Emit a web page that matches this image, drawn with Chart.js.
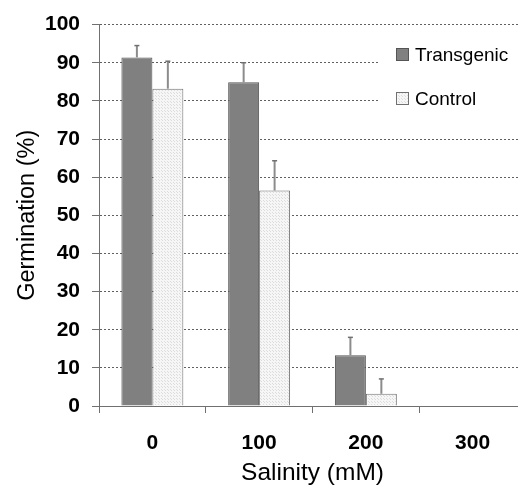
<!DOCTYPE html>
<html>
<head>
<meta charset="utf-8">
<script src="https://cdn.jsdelivr.net/npm/chart.js@4"></script>
<style>
  html, body { margin: 0; padding: 0; background: #fff; overflow: hidden; }
  #wrap { width: 518px; height: 485px; overflow: hidden; }
  #chart { display: block; }
</style>
</head>
<body>
<div id="wrap"><canvas id="chart" width="526" height="485"></canvas></div>
<script>
// Salinity levels (mM)
const salinity = ['0', '100', '200', '300'];

// Germination (%) and upper error bars
const transgenic = [91.4, 84.9, 13.3, 0];
const transgenicErr = [3.1, 5.1, 4.7, 0];
const control = [83.2, 56.5, 3.2, 0];
const controlErr = [7.2, 7.8, 3.9, 0];

const yTicks = [0, 10, 20, 30, 40, 50, 60, 70, 80, 90, 100];

const FONT = "'Liberation Sans', Arial, sans-serif";

// light dotted fill for the control bars
function dotPattern() {
  const c = document.createElement('canvas');
  c.width = 3; c.height = 3;
  const g = c.getContext('2d');
  g.fillStyle = '#f6f6f6';
  g.fillRect(0, 0, 3, 3);
  g.fillStyle = '#dcdcdc';
  g.fillRect(0, 0, 1, 1);
  g.fillRect(2, 2, 1, 1);
  return g.createPattern(c, 'repeat');
}
const controlFill = dotPattern();

const errorBars = {
  id: 'errorBars',
  afterDatasetsDraw(chart) {
    const ctx = chart.ctx;
    const y = chart.scales.y;
    ctx.save();
    chart.data.datasets.forEach((ds, di) => {
      const meta = chart.getDatasetMeta(di);
      meta.data.forEach((bar, i) => {
        const err = ds.errors[i];
        if (!err) return;
        const top = y.getPixelForValue(ds.data[i] + err);
        ctx.strokeStyle = '#8c8c8c';
        ctx.lineWidth = 2;
        ctx.beginPath();
        ctx.moveTo(bar.x, bar.y);
        ctx.lineTo(bar.x, top);
        ctx.stroke();
        ctx.strokeStyle = '#707070';
        ctx.lineWidth = 1.5;
        ctx.beginPath();
        ctx.moveTo(bar.x - 2.5, top);
        ctx.lineTo(bar.x + 2.5, top);
        ctx.stroke();
      });
    });
    ctx.restore();
  }
};

const boxLegend = {
  id: 'boxLegend',
  afterDraw(chart) {
    const ctx = chart.ctx;
    ctx.save();
    ctx.fillStyle = '#fff';
    ctx.fillRect(378, 40, 150, 75);
    ctx.font = '19px ' + FONT;
    ctx.textBaseline = 'middle';
    const rows = [55, 99];
    chart.data.datasets.forEach((ds, i) => {
      const cy = rows[i];
      ctx.fillStyle = ds.backgroundColor;
      ctx.fillRect(396.5, cy - 6.5, 12, 12);
      ctx.strokeStyle = ds.borderColor;
      ctx.lineWidth = 1;
      ctx.strokeRect(396.5, cy - 6.5, 12, 12);
      ctx.fillStyle = '#000';
      ctx.fillText(ds.label, 415, cy + 1);
    });
    ctx.restore();
  }
};

new Chart(document.getElementById('chart'), {
  type: 'bar',
  data: {
    labels: salinity,
    datasets: [
      { label: 'Transgenic', data: transgenic, errors: transgenicErr,
        backgroundColor: '#808080', borderColor: '#555555', borderWidth: 1 },
      { label: 'Control', data: control, errors: controlErr,
        backgroundColor: controlFill, borderColor: '#707070', borderWidth: 1 }
    ]
  },
  options: {
    responsive: false,
    animation: false,
    layout: { padding: { top: 24, right: 0, bottom: 0, left: 0 } },
    plugins: { legend: { display: false }, tooltip: { enabled: false } },
    datasets: { bar: { categoryPercentage: 0.58, barPercentage: 1.0 } },
    scales: {
      x: {
        offset: true,
        grid: { display: true, offset: true, drawOnChartArea: false, drawTicks: true,
                tickLength: 7, tickColor: '#707070' },
        border: { color: '#707070', width: 1 },
        ticks: { color: '#000', padding: 18, font: { family: FONT, size: 21, weight: 'bold' } },
        title: { display: true, text: 'Salinity (mM)', color: '#000',
                 padding: { top: 0, bottom: -3 }, font: { family: FONT, size: 24.5 } },
        afterFit(s) { s.height = 79; }
      },
      y: {
        min: 0, max: 100,
        afterBuildTicks(s) { s.ticks = yTicks.map(v => ({ value: v })); },
        grid: { color: '#606060', tickLength: 7, tickColor: '#707070', tickBorderDash: [] },
        border: { color: '#707070', width: 1, dash: [2, 2] },
        ticks: { color: '#000', padding: 12, font: { family: FONT, size: 21, weight: 'bold' } },
        title: { display: true, text: 'Germination (%)', color: '#000',
                 padding: { top: 13, bottom: 0 }, font: { family: FONT, size: 23.5 } },
        afterFit(s) { s.width = 99; }
      }
    }
  },
  plugins: [errorBars, boxLegend]
});
</script>
</body>
</html>
